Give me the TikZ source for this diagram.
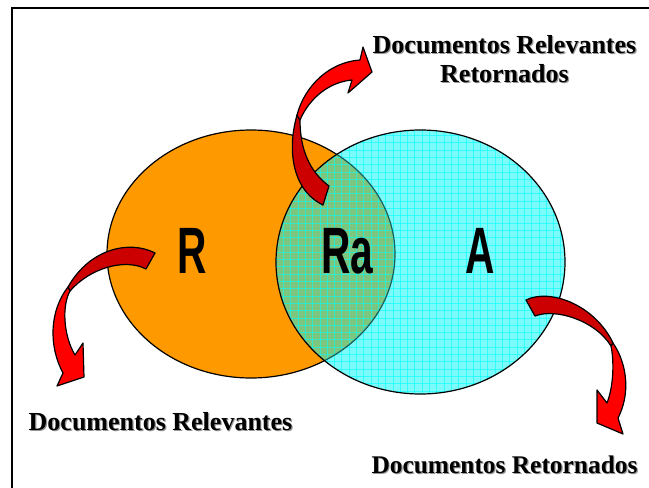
\documentclass[tikz,border=0pt]{standalone}
\usepackage{fontspec}
\usepackage{graphicx}
\setmainfont{Liberation Serif}
\setsansfont{Liberation Sans}
\definecolor{vorange}{RGB}{255,153,0}
\definecolor{vcyan}{RGB}{125,250,250}
\definecolor{vgrid}{RGB}{0,255,255}
\definecolor{vgreen}{RGB}{125,198,125}
\definecolor{ared}{RGB}{255,0,0}
\definecolor{adark}{RGB}{204,0,0}
\definecolor{vline}{RGB}{20,95,95}
\newcommand{\shtext}[1]{\makebox[0pt][l]{\hspace{1.2pt}\raisebox{-1.2pt}{\textcolor{black!40}{#1}}}#1}
\begin{document}
\begin{tikzpicture}[x=1pt,y=-1pt,
  lbl/.style={font=\bfseries\fontsize{26}{29}\selectfont, inner sep=0pt, anchor=base},
  big/.style={font=\sffamily\bfseries\fontsize{65.6}{70}\selectfont, inner sep=0pt, anchor=base},
  arrowout/.style={draw=black, line width=1.2pt, line join=round},
  gridline/.style={draw=vgrid, line width=0.6pt, opacity=0.6},
]
\useasboundingbox (0,0) rectangle (649,488);
\fill[white] (0,0) rectangle (649,488);
% frame
\draw[line width=2pt] (12,492) -- (12,8) -- (653,8);

% Venn diagram
\path[fill=vorange, draw=black, line width=1.2pt] (251,254) ellipse [x radius=144, y radius=124];
\fill[vcyan] (420.5,262) ellipse [x radius=144.5, y radius=132];
\begin{scope}
  \clip (251,254) ellipse [x radius=144, y radius=124];
  \fill[vgreen] (420.5,262) ellipse [x radius=144.5, y radius=132];
\end{scope}
\begin{scope}
  \clip (420.5,262) ellipse [x radius=144.5, y radius=132];
  \foreach \i in {0,...,40} {
    \draw[gridline] ({276+\i*7.3},125) -- ({276+\i*7.3},400);
  }
  \foreach \j in {0,...,38} {
    \draw[gridline] (270,{128+\j*7.3}) -- (570,{128+\j*7.3});
  }
  \draw[vline, line width=1.2pt] (251,254) ellipse [x radius=144, y radius=124];
\end{scope}
\draw[black, line width=1.2pt] (420.5,262) ellipse [x radius=144.5, y radius=132];

% set letters
\node[big] (setR) at (192,273) {\scalebox{0.62}[1]{R}};
\node[big] (setRa) at (347.5,273) {\scalebox{0.62}[1]{Ra}};
\node[big] (setA) at (480,273) {\scalebox{0.62}[1]{A}};

% left arrow
\path[arrowout, fill=adark] (155,253) .. controls (130,240) and (90,248) .. (68,287) -- (70,291) .. controls (90,268) and (125,258) .. (146,269) -- cycle;
\path[arrowout, fill=ared] (68,287) .. controls (50,310) and (48,345) .. (63,373) -- (57,386) -- (84,377) -- (83,343) -- (75,355) .. controls (63,335) and (62,305) .. (70,291) -- cycle;

% top arrow
\path[arrowout, fill=adark] (297,115) .. controls (287,150) and (292,190) .. (323,205) -- (329,186) .. controls (310,172) and (300,150) .. (300,120) -- cycle;
\path[arrowout, fill=ared] (297,115) .. controls (305,85) and (330,62) .. (360,60) -- (363,47) -- (372,72) -- (348,93) -- (352,80) .. controls (330,82) and (310,97) .. (300,120) -- cycle;

% right arrow
\path[arrowout, fill=adark] (526,300) .. controls (550,288) and (595,305) .. (613,343) -- (611,346) .. controls (595,320) and (555,308) .. (535,316) -- cycle;
\path[arrowout, fill=ared] (613,343) .. controls (628,365) and (630,395) .. (618,418) -- (623,434) -- (597,423) -- (597,390) -- (607,403) .. controls (614,385) and (614,360) .. (611,346) -- cycle;

% labels
\node[lbl] (t1) at (504.5,53) {\shtext{Documentos Relevantes}};
\node[lbl] (t2) at (504.5,82) {\shtext{Retornados}};
\node[lbl] (bl) at (160.5,430) {\shtext{Documentos Relevantes}};
\node[lbl, font=\bfseries\fontsize{25.4}{29}\selectfont] (br) at (504.5,473) {\shtext{Documentos Retornados}};
\end{tikzpicture}
\end{document}
